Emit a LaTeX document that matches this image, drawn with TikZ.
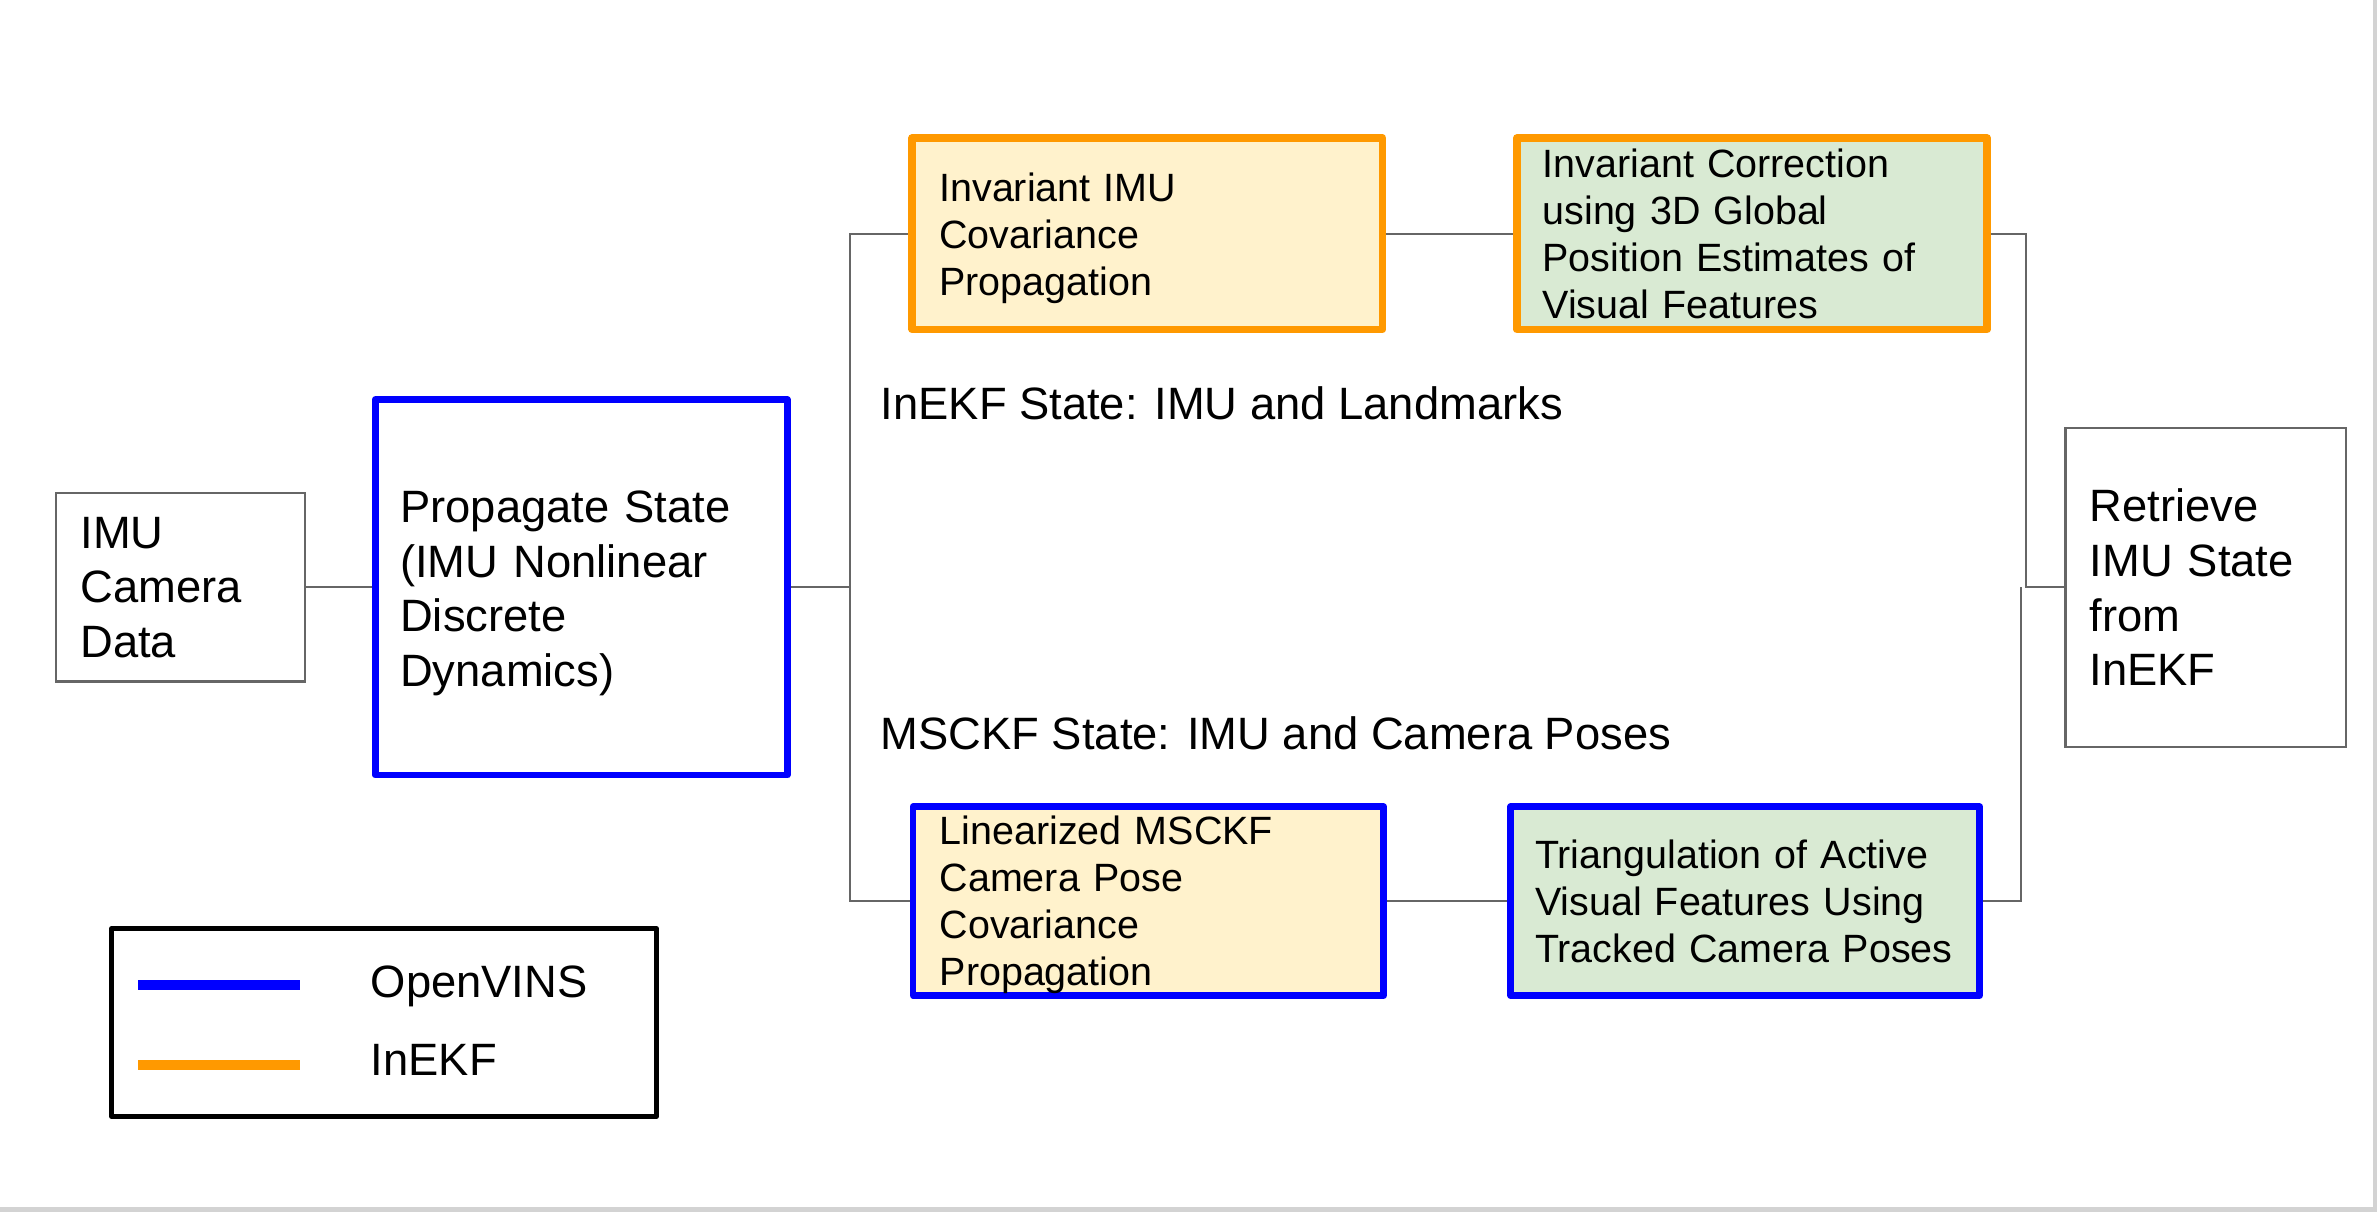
\documentclass[tikz,border=0pt]{standalone}
\usepackage{fontspec}
\setmainfont{Liberation Sans}
\usepackage{xcolor}
\usetikzlibrary{positioning}
\definecolor{vinsblue}{HTML}{0000FF}
\definecolor{ekforange}{HTML}{FF9900}
\definecolor{covfill}{HTML}{FFF2CC}
\definecolor{corrfill}{HTML}{D9EAD3}
\definecolor{wiregray}{HTML}{666666}
\definecolor{pagegray}{HTML}{D3D3D3}
\tikzset{
  bigtext/.style={font=\fontsize{17}{20.5}\selectfont},
  smalltext/.style={font=\fontsize{14.8}{17.6}\selectfont},
  plainbox/.style={draw=wiregray, line width=0.3mm, align=left, inner ysep=0pt, bigtext},
  vinsbox/.style={draw=vinsblue, line width=0.88mm, line join=round, align=left, inner ysep=0pt},
  ekfbox/.style={draw=ekforange, line width=1mm, line join=round, align=left, inner ysep=0pt},
  wire/.style={draw=wiregray, line width=0.26mm},
  statelabel/.style={anchor=west, inner sep=0pt, bigtext},
  legendbox/.style={draw=black, line width=0.6mm, line join=round, minimum width=71.8mm, minimum height=24.8mm},
  swatch/.style={line width=1.3mm},
}

\begin{document}
\begin{tikzpicture}[x=0.2mm,y=-0.2mm]
  \useasboundingbox (0,0) rectangle (1567,800);
  \draw[pagegray, line width=0.6mm] (0,797) -- (1565,797) -- (1565,0);
  % boxes
  \node[plainbox, minimum width=32.8mm, minimum height=24.8mm, inner xsep=3.2mm, text width=26.4mm] (imu) at (119,387) {IMU\\Camera\\Data};
  \node[vinsbox, bigtext, minimum width=54.3mm, minimum height=49.5mm, inner xsep=3.3mm, text width=47.7mm, text depth=60.5pt] (prop) at (383,387) {Propagate State\\(IMU Nonlinear\\Discrete\\Dynamics)};
  \node[ekfbox, smalltext, fill=covfill, minimum width=62mm, minimum height=25.2mm, inner xsep=3.6mm, text width=54.8mm, text depth=34.9pt] (invcov) at (756,154) {Invariant IMU\\Covariance\\Propagation};
  \node[ekfbox, smalltext, fill=corrfill, minimum width=62mm, minimum height=25.2mm, inner xsep=3.4mm, text width=55.2mm] (invcorr) at (1154.5,154) {Invariant Correction\\using 3D Global\\Position Estimates of\\Visual Features};
  \node[vinsbox, smalltext, fill=covfill, minimum width=62mm, minimum height=24.9mm, inner xsep=3.5mm, text width=55mm, text depth=53.1pt] (lincov) at (756.7,593.8) {Linearized MSCKF\\Camera Pose\\Covariance\\Propagation};
  \node[vinsbox, smalltext, fill=corrfill, minimum width=61.8mm, minimum height=24.9mm, inner xsep=3.2mm, text width=55.4mm] (tri) at (1150,593.8) {Triangulation of Active\\Visual Features Using\\Tracked Camera Poses};
  \node[plainbox, minimum width=37mm, minimum height=42mm, inner xsep=3.2mm, text width=30.6mm] (retr) at (1453.5,387) {Retrieve\\IMU State\\from\\InEKF};
  \node[statelabel] (inekflbl) at (580,266) {InEKF State: IMU and Landmarks};
  \node[statelabel] (msckflbl) at (580,483) {MSCKF State: IMU and Camera Poses};
  % connectors
  \coordinate (split) at (560,387);
  \coordinate (mergetop) at (1335,387);
  \coordinate (mergebot) at (1332,387);
  \draw[wire] (imu) -- (prop);
  \draw[wire] (prop) -- (split);
  \draw[wire] (split) |- (invcov.west);
  \draw[wire] (split) |- (lincov.west);
  \draw[wire] (invcov) -- (invcorr);
  \draw[wire] (lincov) -- (tri);
  \draw[wire] (invcorr.east) -| (mergetop) -- (retr.west);
  \draw[wire] (tri.east) -| (mergebot);
  % legend
  \node[legendbox] (legend) at (253,673.8) {};
  \draw[swatch, vinsblue] (91,649) -- (198,649);
  \draw[swatch, ekforange] (91,701.5) -- (198,701.5);
  \node[anchor=base west, inner sep=0pt, bigtext] (vinslbl) at (244,657) {OpenVINS};
  \node[anchor=base west, inner sep=0pt, bigtext] (ekflbl) at (244,709) {InEKF};
\end{tikzpicture}
\end{document}
